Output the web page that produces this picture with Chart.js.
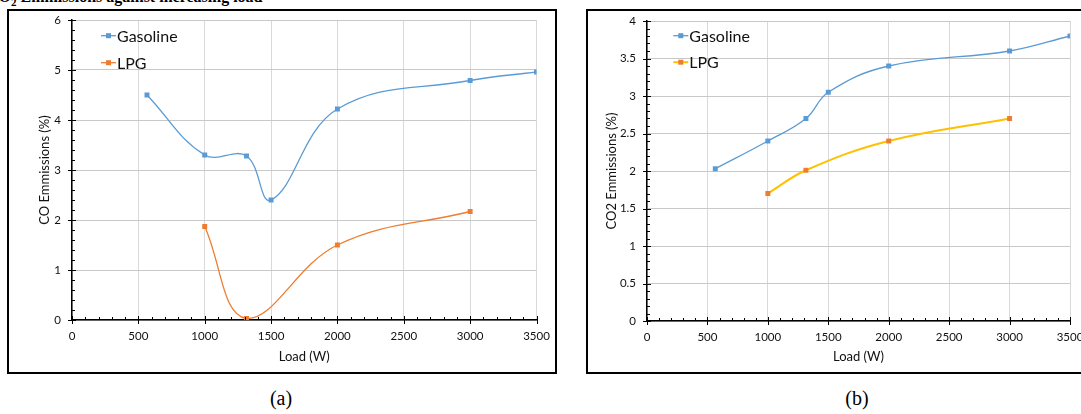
<!DOCTYPE html>
<html>
<head>
<meta charset="utf-8">
<script src="https://cdn.jsdelivr.net/npm/chart.js@4.4.1/dist/chart.umd.min.js"></script>
<style>
    html, body { margin: 0; padding: 0; background: #fff; }
    body { width: 1081px; height: 414px; position: relative; overflow: hidden; }
    .fig-title { position: absolute; left: -13px; top: -12px; font: bold 16px "Liberation Serif", "Times New Roman", serif; white-space: nowrap; color: #000; }
    .fig-title sub { font-size: 11px; }
    .box { position: absolute; border: 2.5px solid #000; box-sizing: border-box; }
    .box-a { left: 7px; top: 9px; width: 550px; height: 365px; }
    .box-b { left: 586px; top: 9px; width: 520px; height: 365px; }
    .chart-wrap { position: absolute; }
    .wrap-a { left: 8px; top: 10px; }
    .wrap-b { left: 587px; top: 10px; }
    .caption { position: absolute; top: 387px; font: 20px "Liberation Serif", "Times New Roman", serif; color: #000; transform: translateX(-50%); }
</style>
</head>
<body>
<div class="fig-title">CO<sub>2</sub> Emmissions against increasing load</div>
<div class="box box-a"></div>
<div class="box box-b"></div>
<div class="chart-wrap wrap-a"><canvas id="chart-co" width="548" height="363"></canvas></div>
<div class="chart-wrap wrap-b"><canvas id="chart-co2" width="500" height="363"></canvas></div>
<div class="caption" style="left:281px">(a)</div>
<div class="caption" style="left:857px">(b)</div>

<script>
// Data
const loadGasoline = [565, 1000, 1315, 1500, 2000, 3000, 3500];
const loadLpg = [1000, 1315, 2000, 3000];
const gasolineCO = [4.5, 3.3, 3.28, 2.4, 4.22, 4.79, 4.96];
const lpgCO = [1.87, 0.03, 1.5, 2.17];
const gasolineCO2 = [2.03, 2.4, 2.7, 3.05, 3.4, 3.6, 3.8];
const lpgCO2 = [1.7, 2.01, 2.4, 2.7];
const loadTicks = ['0', '500', '1000', '1500', '2000', '2500', '3000', '3500'];
const coTicks = ['0', '1', '2', '3', '4', '5', '6'];
const co2Ticks = ['0', '0.5', '1', '1.5', '2', '2.5', '3', '3.5', '4'];

const BLUE = '#5B9BD5';
const ORANGE = '#ED7D31';
const YELLOW = '#FFC000';
const FONT = 'Lato, "Open Sans", sans-serif';

function toPoints(xs, ys) {
    return xs.map(function (x, i) { return { x: x, y: ys[i] }; });
}

// Excel style tick marks: major ticks cross the axis, minor ticks inside
const axisTicks = {
    id: 'axisTicks',
    afterDraw(chart) {
        const ctx = chart.ctx;
        const area = chart.chartArea;
        const xs = chart.scales.x, ys = chart.scales.y;
        ctx.save();
        ctx.strokeStyle = '#000';
        ctx.lineWidth = 1;
        ctx.beginPath();
        const xv = xs.ticks.map(t => t.value);
        xv.forEach(function (v, i) {
            const px = Math.round(xs.getPixelForValue(v)) + 0.5;
            ctx.moveTo(px, area.bottom - 4);
            ctx.lineTo(px, area.bottom + 4);
            if (i < xv.length - 1) {
                for (let k = 1; k < 5; k++) {
                    const mx = Math.round(xs.getPixelForValue(v + (xv[i + 1] - v) * k / 5)) + 0.5;
                    ctx.moveTo(mx, area.bottom - 3);
                    ctx.lineTo(mx, area.bottom);
                }
            }
        });
        const yv = ys.ticks.map(t => t.value);
        yv.forEach(function (v, i) {
            const py = Math.round(ys.getPixelForValue(v)) + 0.5;
            ctx.moveTo(area.left - 4, py);
            ctx.lineTo(area.left + 4, py);
            if (i < yv.length - 1) {
                for (let k = 1; k < 5; k++) {
                    const my = Math.round(ys.getPixelForValue(v + (yv[i + 1] - v) * k / 5)) + 0.5;
                    ctx.moveTo(area.left, my);
                    ctx.lineTo(area.left + 3, my);
                }
            }
        });
        ctx.stroke();
        ctx.restore();
    }
};

// Legend drawn inside the plot area, top left
const innerLegend = {
    id: 'innerLegend',
    afterDraw(chart, args, opts) {
        const ctx = chart.ctx;
        const area = chart.chartArea;
        ctx.save();
        chart.data.datasets.forEach(function (ds, i) {
            const x0 = area.left + opts.x;
            const y0 = area.top + opts.y + i * opts.gap;
            ctx.strokeStyle = ds.borderColor;
            ctx.lineWidth = ds.borderWidth;
            ctx.beginPath();
            ctx.moveTo(x0, y0);
            ctx.lineTo(x0 + 15, y0);
            ctx.stroke();
            ctx.fillStyle = ds.pointBackgroundColor;
            ctx.fillRect(x0 + 5, y0 - 2.5, 5, 5);
            ctx.fillStyle = '#111';
            ctx.font = '16px ' + FONT;
            ctx.textBaseline = 'middle';
            ctx.fillText(ds.label, x0 + 16, y0 + 1);
        });
        ctx.restore();
    }
};

function makeChart(id, cfg) {
    return new Chart(document.getElementById(id).getContext('2d'), {
        type: 'line',
        data: {
            datasets: [{
                label: 'Gasoline',
                data: toPoints(loadGasoline, cfg.gasoline),
                borderColor: BLUE,
                backgroundColor: BLUE,
                pointBackgroundColor: BLUE,
                borderWidth: 1.3,
                pointStyle: 'rect',
                pointRadius: 3.5,
                pointBorderWidth: 0,
                tension: 0.4
            }, {
                label: 'LPG',
                data: toPoints(loadLpg, cfg.lpg),
                borderColor: cfg.lpgLine,
                backgroundColor: ORANGE,
                pointBackgroundColor: ORANGE,
                borderWidth: cfg.lpgWidth,
                pointStyle: 'rect',
                pointRadius: 3.5,
                pointBorderWidth: 0,
                tension: 0.4
            }]
        },
        options: {
            responsive: false,
            animation: false,
            devicePixelRatio: 1,
            layout: { padding: { top: cfg.padTop, right: cfg.padRight, left: 0, bottom: 0 } },
            plugins: {
                legend: { display: false },
                tooltip: { enabled: false },
                innerLegend: cfg.legend
            },
            scales: {
                x: {
                    type: 'linear',
                    min: 0, max: 3500,
                    ticks: {
                        stepSize: 500, autoSkip: false, maxRotation: 0, padding: 9,
                        color: '#111', font: { family: FONT, size: 11.5 },
                        callback: (v, i) => loadTicks[i]
                    },
                    grid: { color: '#D9D9D9', drawTicks: false },
                    border: { color: '#000', width: 1.5 },
                    title: {
                        display: true, text: 'Load (W)', color: '#111',
                        font: { family: FONT, size: 13 }, padding: { top: 0, bottom: 8 }
                    },
                    afterFit: function (s) {
                        s.height = cfg.xHeight;
                        s.paddingLeft = 0;
                        s.paddingRight = 0;
                    }
                },
                y: {
                    min: 0, max: cfg.yMax,
                    ticks: {
                        stepSize: cfg.yStep, padding: 11,
                        color: '#111', font: { family: FONT, size: 11.5 },
                        callback: (v, i) => cfg.yTicks[i]
                    },
                    grid: { color: '#C8C8C8', drawTicks: false },
                    border: { color: '#000', width: 1.5 },
                    title: {
                        display: true, text: cfg.yTitle, color: '#111',
                        font: { family: FONT, size: 13 }, padding: { top: cfg.yTitlePad, bottom: 0 }
                    },
                    afterFit: function (s) {
                        s.width = cfg.yWidth;
                        s.paddingTop = 0;
                        s.paddingBottom = 0;
                    }
                }
            }
        },
        plugins: [axisTicks, innerLegend]
    });
}

makeChart('chart-co', {
    gasoline: gasolineCO, lpg: lpgCO, lpgLine: ORANGE, lpgWidth: 1.3,
    yMax: 6, yStep: 1, yTicks: coTicks, yTitle: 'CO Emmissions (%)',
    yWidth: 64, yTitlePad: 29, xHeight: 53, padTop: 10, padRight: 19.5,
    legend: { x: 29, y: 15.7, gap: 27 }
});

makeChart('chart-co2', {
    gasoline: gasolineCO2, lpg: lpgCO2, lpgLine: YELLOW, lpgWidth: 2,
    yMax: 4, yStep: 0.5, yTicks: co2Ticks, yTitle: 'CO2 Emmissions (%)',
    yWidth: 60, yTitlePad: 17.4, xHeight: 52, padTop: 11, padRight: 17,
    legend: { x: 26.3, y: 14.7, gap: 26.5 }
});
</script>
</body>
</html>
